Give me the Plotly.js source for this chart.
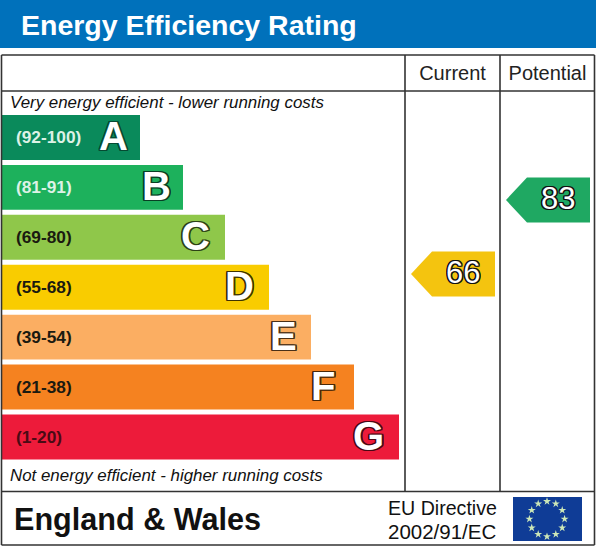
<!DOCTYPE html>
<html><head><meta charset="utf-8">
<script src="https://cdn.plot.ly/plotly-3.0.1.min.js"></script>
<style>html,body{margin:0;padding:0;background:#fff}#c{width:596px;height:547px}</style>
</head><body><div id="c"></div>
<script>
const bands = ['A','B','C','D','E','F','G'];
const ranges = ['(92-100)','(81-91)','(69-80)','(55-68)','(39-54)','(21-38)','(1-20)'];
const barLengths = [138,181,223,267,309,352,397];
const barColors = ['#0A8A5B','#1DB15C','#8FC74A','#F9CC00','#FBAE62','#F58220','#ED1B3A'];
const rangeColors = ['#DDF2E6','#DDF2E6','#1A1A10','#1A1A10','#1A1A10','#1A1A10','#4A0A14'];
const letterEdge = ['#064A32','#083F24','#2C4216','#3E3300','#4A3018','#4A2808','#4A0814'];
const columns = ['Current','Potential'];
const ratings = [66,83];
const pointerColors = ['#F4C40F','#1FA862'];
const starAngles = [0,30,60,90,120,150,180,210,240,270,300,330];
const W=596,H=547;
const px=v=>v/W, py=v=>1-v/H;
const letterInset = {A:8.5,B:8,C:11,D:11,E:10,F:15,G:11};
const outline=(c,w)=>{const s=[];for(const[a,b]of[[1,0],[-1,0],[0,1],[0,-1],[1,1],[-1,-1],[1,-1],[-1,1]])s.push(`${a*w}px ${b*w}px 0 ${c}`);return s.join(',');};
const FF='"Liberation Sans", Arial, sans-serif';
const traces=[
 {type:'bar',orientation:'h',y:bands,x:barLengths,base:2,marker:{color:barColors,line:{width:0}},xaxis:'x',yaxis:'y',hoverinfo:'skip',width:0.9},
 {type:'scatter',mode:'markers',x:columns,y:ratings,marker:{size:1,opacity:0},xaxis:'x2',yaxis:'y2',hoverinfo:'skip'},
 {type:'scatterpolar',mode:'markers',r:starAngles.map(()=>0.88),theta:starAngles,subplot:'polar',marker:{symbol:'star',size:6,color:'#CDE8B8',line:{width:0}},hoverinfo:'skip'}
];
const line=(x0,y0,x1,y1)=>({type:'line',xref:'paper',yref:'paper',x0:px(x0),x1:px(x1),y0:py(y0),y1:py(y1),line:{color:'#333333',width:1.6},layer:'above'});
const shapes=[
 {type:'rect',xref:'paper',yref:'paper',x0:0,x1:1,y0:py(48),y1:1,fillcolor:'#0071BB',line:{width:0},layer:'below'},
 {type:'rect',xref:'paper',yref:'paper',x0:px(513),x1:px(582),y0:py(541),y1:py(497),fillcolor:'#0F3C96',line:{width:0},layer:'below'},
 line(1.5,55,594.5,55),line(1.5,91,594.5,91),line(1.5,491.5,594.5,491.5),line(1.5,545,594.5,545),
 line(1.5,55,1.5,545),line(594.5,55,594.5,545),line(405,55,405,491.5),line(500,55,500,491.5)
];
ratings.forEach((r,i)=>{shapes.push({type:'path',xref:'x2',yref:'y2',xsizemode:'pixel',ysizemode:'pixel',xanchor:i,yanchor:r,
 path:'M -41.5 0 L -20.5 22.5 L 42.5 22.5 L 42.5 -22.5 L -20.5 -22.5 Z',fillcolor:pointerColors[i],line:{width:0},layer:'above'});});
const ann=[];
bands.forEach((b,i)=>{
 ann.push({xref:'x',yref:'y',x:0,y:b,text:ranges[i],showarrow:false,xanchor:'left',xshift:14,yshift:0,font:{family:FF,size:17.3,weight:700,color:rangeColors[i]}});
 ann.push({xref:'x',yref:'y',x:barLengths[i],y:b,text:b,showarrow:false,xanchor:'right',xshift:-letterInset[b],yshift:1,font:{family:FF,size:40,weight:700,color:'#FFFFFF',shadow:outline(letterEdge[i],1.4)}});
});
ratings.forEach((r,i)=>ann.push({xref:'x2',yref:'y2',x:i,y:r,text:String(r),showarrow:false,xanchor:'center',xshift:10,yshift:2,font:{family:FF,size:31,color:'#FFFFFF',shadow:outline('#111111',1.2)}}));
const pt=(x,y,text,size,extra={})=>({xref:'paper',yref:'paper',x:px(x-2),y:py(y),text,showarrow:false,xanchor:'left',yanchor:'middle',align:'left',font:Object.assign({family:FF,size,color:'#111111'},extra)});
ann.push(pt(10,102,'Very energy efficient - lower running costs',16.9,{style:'italic'}));
ann.push(pt(10,475,'Not energy efficient - higher running costs',16.9,{style:'italic'}));
ann.push(pt(14,519,'England &amp; Wales',30.6,{weight:700}));
ann.push(pt(388,508,'EU Directive',19.6));
ann.push(pt(388,531,'2002/91/EC',20.5));
const layout={
 width:W,height:H,margin:{l:0,r:0,t:0,b:0},paper_bgcolor:'#fff',plot_bgcolor:'rgba(0,0,0,0)',showlegend:false,bargap:0.1,
 title:{text:'Energy Efficiency Rating',x:px(21),xanchor:'left',xref:'paper',y:py(25),yanchor:'middle',yref:'paper',font:{family:FF,size:28.5,weight:700,color:'#FFFFFF'}},
 xaxis:{domain:[0,1],range:[0,W],visible:false,fixedrange:true},
 yaxis:{domain:[py(462),py(112.5)],type:'category',categoryorder:'array',categoryarray:bands,autorange:'reversed',visible:false,fixedrange:true},
 xaxis2:{domain:[px(405),px(595)],range:[-0.5,1.5],type:'category',categoryorder:'array',categoryarray:columns,anchor:'y2',side:'top',showgrid:false,zeroline:false,showline:false,ticks:'outside',ticklen:2,tickcolor:'rgba(0,0,0,0)',tickfont:{family:FF,size:20,color:'#222222'},fixedrange:true},
 yaxis2:{domain:[py(491),py(91)],range:[16.15,108.04],anchor:'x2',visible:false,showgrid:false,fixedrange:true},
 polar:{domain:{x:[px(527),px(567)],y:[py(539),py(499)]},bgcolor:'rgba(0,0,0,0)',radialaxis:{visible:false,range:[0,1]},angularaxis:{visible:false}},
 shapes,annotations:ann
};
Plotly.newPlot('c',traces,layout,{displayModeBar:false,staticPlot:true});
</script></body></html>
